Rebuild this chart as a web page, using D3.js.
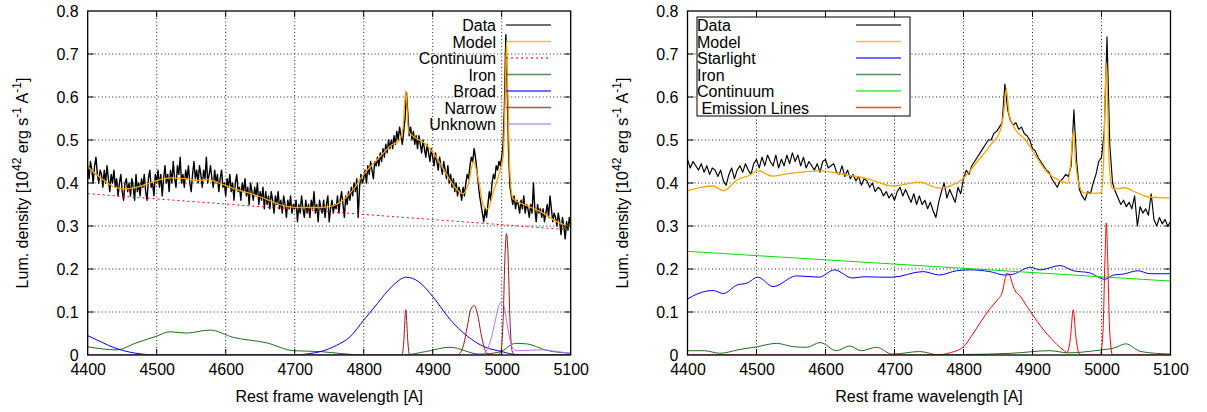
<!DOCTYPE html>
<html>
<head>
<meta charset="utf-8">
<script src="https://cdn.jsdelivr.net/npm/d3@7"></script>
<style>
  body { margin: 0; background: #fff; }
  svg { display: block; font-family: "Liberation Sans", Arial, Helvetica, sans-serif; }
</style>
</head>
<body>
<script>
"use strict";

// tick values and labels shared by both panels
var xTicks = [4400, 4500, 4600, 4700, 4800, 4900, 5000, 5100];
var yTicks = [0, 0.1, 0.2, 0.3, 0.4, 0.5, 0.6, 0.7, 0.8];
var yTickLabels = ["0", "0.1", "0.2", "0.3", "0.4", "0.5", "0.6", "0.7", "0.8"];

// ---- left panel ----
// observed spectrum, one value every 2 A from 4400 A
var leftDataStart = 4400, leftDataStep = 2;
var leftData = [
  0.44,0.41,0.45,0.43,0.40,0.44,0.46,0.42,0.40,0.43,
  0.42,0.39,0.43,0.40,0.44,0.41,0.38,0.42,0.40,0.43,
  0.39,0.41,0.37,0.40,0.42,0.38,0.36,0.40,0.41,0.38,
  0.40,0.37,0.41,0.39,0.36,0.42,0.38,0.40,0.37,0.41,
  0.39,0.42,0.38,0.36,0.41,0.43,0.39,0.40,0.37,0.42,
  0.40,0.43,0.39,0.42,0.37,0.41,0.44,0.40,0.42,0.38,
  0.43,0.40,0.45,0.41,0.39,0.44,0.42,0.46,0.40,0.42,
  0.39,0.43,0.41,0.44,0.40,0.38,0.42,0.45,0.41,0.43,
  0.40,0.44,0.42,0.39,0.43,0.41,0.46,0.40,0.42,0.44,
  0.41,0.39,0.43,0.40,0.42,0.38,0.41,0.43,0.39,0.40,
  0.37,0.41,0.39,0.42,0.38,0.40,0.36,0.40,0.42,0.38,
  0.39,0.36,0.40,0.38,0.41,0.37,0.39,0.35,0.40,0.38,
  0.36,0.39,0.37,0.40,0.35,0.38,0.36,0.39,0.34,0.38,
  0.35,0.37,0.34,0.38,0.36,0.33,0.37,0.35,0.38,0.34,
  0.36,0.33,0.37,0.35,0.32,0.36,0.34,0.37,0.33,0.35,
  0.34,0.36,0.31,0.35,0.33,0.37,0.34,0.32,0.36,0.33,
  0.35,0.32,0.36,0.34,0.38,0.33,0.35,0.31,0.36,0.34,
  0.33,0.36,0.32,0.35,0.37,0.31,0.34,0.36,0.33,0.35,
  0.34,0.37,0.33,0.36,0.38,0.35,0.32,0.37,0.35,0.38,
  0.36,0.39,0.37,0.40,0.38,0.41,0.32,0.39,0.42,0.40,
  0.41,0.43,0.40,0.44,0.42,0.45,0.43,0.41,0.45,0.44,
  0.46,0.44,0.47,0.45,0.48,0.46,0.49,0.47,0.50,0.48,
  0.50,0.48,0.51,0.49,0.52,0.50,0.53,0.51,0.49,0.52,
  0.55,0.61,0.56,0.51,0.53,0.50,0.52,0.49,0.51,0.48,
  0.51,0.49,0.47,0.50,0.48,0.46,0.49,0.47,0.45,0.48,
  0.46,0.44,0.47,0.45,0.43,0.46,0.44,0.42,0.45,0.43,
  0.41,0.44,0.40,0.42,0.39,0.41,0.38,0.40,0.37,0.39,
  0.38,0.36,0.39,0.37,0.40,0.42,0.41,0.44,0.46,0.45,
  0.48,0.46,0.43,0.40,0.37,0.35,0.33,0.31,0.34,0.32,
  0.35,0.38,0.36,0.40,0.42,0.41,0.44,0.43,0.45,0.44,
  0.46,0.49,0.58,0.745,0.62,0.47,0.39,0.37,0.35,0.37,
  0.34,0.36,0.35,0.33,0.36,0.34,0.37,0.33,0.35,0.34,
  0.32,0.35,0.33,0.40,0.34,0.31,0.35,0.33,0.34,0.32,
  0.34,0.31,0.33,0.35,0.32,0.37,0.34,0.31,0.33,0.32,
  0.30,0.33,0.31,0.28,0.32,0.30,0.27,0.31,0.29,0.32,
  0.30
];
var leftModelX = [4400,4420,4440,4455,4470,4490,4505,4520,4540,4560,4575,4590,4610,4630,4650,4670,4690,4710,4730,4750,4770,4785,4800,4820,4840,4852,4857,4861,4865,4875,4890,4905,4920,4935,4944,4952,4959,4966,4974,4980,4988,4996,5002,5005,5007,5009,5012,5016,5025,5040,5060,5080,5100];
var leftModelY = [0.438,0.41,0.39,0.386,0.39,0.40,0.408,0.412,0.41,0.406,0.408,0.40,0.388,0.378,0.368,0.355,0.345,0.343,0.343,0.345,0.36,0.385,0.42,0.455,0.488,0.50,0.53,0.615,0.52,0.505,0.49,0.46,0.42,0.385,0.375,0.40,0.45,0.41,0.345,0.34,0.38,0.42,0.46,0.60,0.73,0.60,0.42,0.365,0.355,0.345,0.33,0.31,0.298];
var leftContX = [4400, 5100];
var leftContY = [0.375, 0.291];
var leftIronX = [4400,4442,4470,4500,4519,4543,4577,4611,4660,4698,4737,4770,4800,4857,4890,4925,4968,4997,5020,5036,5065,5100];
var leftIronY = [0.019,0.012,0.028,0.044,0.054,0.051,0.058,0.041,0.028,0.010,0.008,0.003,0,0,0.008,0.018,0.002,0.007,0.027,0.026,0.011,0.004];
var leftBroadX = [4400,4420,4440,4460,4480,4500,4700,4720,4740,4760,4780,4800,4820,4840,4862,4880,4900,4925,4950,4975,5000,5020,5040,5100];
var leftBroadY = [0.045,0.03,0.016,0.007,0.002,0,0,0.003,0.009,0.022,0.042,0.081,0.12,0.158,0.181,0.17,0.136,0.083,0.044,0.019,0.008,0.001,0,0];
var leftNarrowX = [4400,4852,4856,4858,4861,4864,4866,4870,4935,4940,4945,4950,4955,4960,4965,4970,4975,4980,4985,4995,4999,5002,5005,5007,5009,5012,5015,5019,5100];
var leftNarrowY = [0,0,0.002,0.03,0.105,0.03,0.002,0,0,0.005,0.025,0.065,0.105,0.115,0.095,0.05,0.015,0.002,0,0,0.01,0.08,0.24,0.282,0.24,0.08,0.01,0,0];
var leftUnknownX = [4400,4970,4978,4985,4990,4995,5000,5004,5008,5012,5016,5022,5040,5060,5080,5100];
var leftUnknownY = [0,0,0.01,0.04,0.075,0.11,0.124,0.11,0.07,0.035,0.016,0.01,0.011,0.012,0.008,0.004];

// ---- right panel ----
// observed spectrum, one value every 4 A from 4400 A
var rightDataStart = 4400, rightDataStep = 4;
var rightData = [
  0.455,0.435,0.45,0.44,0.43,
  0.445,0.425,0.44,0.42,0.435,
  0.43,0.415,0.43,0.405,0.395,
  0.42,0.435,0.41,0.43,0.44,
  0.425,0.445,0.43,0.42,0.445,
  0.455,0.435,0.46,0.44,0.465,
  0.45,0.44,0.465,0.435,0.455,
  0.44,0.465,0.445,0.47,0.45,
  0.465,0.44,0.46,0.435,0.45,
  0.44,0.43,0.445,0.425,0.45,
  0.455,0.435,0.44,0.445,0.425,
  0.42,0.44,0.415,0.43,0.41,
  0.42,0.405,0.415,0.395,0.41,
  0.405,0.39,0.40,0.38,0.39,
  0.385,0.37,0.38,0.365,0.375,
  0.36,0.38,0.39,0.37,0.385,
  0.37,0.355,0.375,0.35,0.37,
  0.35,0.36,0.34,0.355,0.335,
  0.32,0.355,0.38,0.40,0.365,
  0.385,0.37,0.355,0.39,0.375,
  0.41,0.43,0.42,0.44,0.45,
  0.46,0.47,0.48,0.49,0.50,
  0.50,0.515,0.52,0.53,0.54,
  0.63,0.57,0.545,0.535,0.54,
  0.525,0.53,0.515,0.51,0.50,
  0.48,0.475,0.46,0.45,0.44,
  0.43,0.425,0.41,0.40,0.39,
  0.405,0.41,0.42,0.415,0.44,
  0.57,0.45,0.385,0.37,0.36,
  0.38,0.375,0.40,0.42,0.45,
  0.46,0.52,0.74,0.49,0.40,
  0.38,0.365,0.35,0.36,0.345,
  0.355,0.34,0.37,0.30,0.345,
  0.33,0.34,0.325,0.375,0.315,
  0.30,0.32,0.305,0.315,0.30,
  0.31
];
var rightModelX = [4400,4420,4437,4452,4472,4490,4501,4524,4540,4558,4591,4630,4663,4697,4736,4765,4784,4799,4820,4840,4853,4858,4862,4866,4875,4890,4902,4922,4940,4951,4955,4959,4963,4970,4975,4990,5000,5003,5007,5011,5015,5018,5033,5050,5067,5085,5100];
var rightModelY = [0.382,0.39,0.393,0.382,0.407,0.418,0.429,0.416,0.42,0.424,0.428,0.419,0.409,0.393,0.402,0.388,0.395,0.41,0.45,0.49,0.52,0.56,0.62,0.56,0.525,0.50,0.47,0.424,0.405,0.40,0.44,0.52,0.44,0.385,0.377,0.376,0.378,0.45,0.68,0.45,0.39,0.386,0.389,0.378,0.368,0.366,0.365];
var rightStarX = [4400,4414,4437,4452,4472,4486,4502,4524,4558,4591,4613,4639,4655,4678,4697,4741,4765,4790,4809,4838,4860,4872,4897,4911,4940,4959,4983,5005,5017,5031,5053,5070,5100];
var rightStarY = [0.13,0.142,0.15,0.143,0.163,0.167,0.181,0.159,0.184,0.181,0.198,0.179,0.182,0.181,0.181,0.194,0.186,0.196,0.198,0.194,0.186,0.188,0.204,0.198,0.208,0.196,0.191,0.176,0.186,0.188,0.196,0.189,0.189];
var rightIronX = [4400,4424,4447,4476,4500,4529,4555,4573,4592,4616,4635,4652,4674,4697,4736,4765,4800,4870,4925,4952,5000,5018,5035,5057,5100];
var rightIronY = [0.01,0.01,0.004,0.013,0.019,0.027,0.019,0.018,0.029,0.01,0.021,0.01,0.018,0.002,0.008,0,0.001,0.004,0.01,0.005,0.012,0.016,0.026,0.008,0.002];
var rightContX = [4400, 5100];
var rightContY = [0.241, 0.172];
var rightLinesX = [4400,4760,4780,4800,4812,4825,4837,4849,4856,4860,4863,4867,4870,4874,4882,4892,4902,4912,4922,4935,4946,4950,4955,4959,4963,4967,4970,4998,5002,5005,5007,5009,5012,5016,5100];
var rightLinesY = [0,0,0.005,0.019,0.045,0.077,0.105,0.128,0.145,0.175,0.19,0.186,0.17,0.152,0.137,0.113,0.089,0.067,0.047,0.025,0.01,0.006,0.04,0.105,0.04,0.005,0,0,0.05,0.22,0.307,0.22,0.05,0,0];

var width = 1207, height = 412;

var svg = d3.select("body").append("svg")
  .attr("width", width)
  .attr("height", height);

function pairs(xs, ys) {
  return xs.map(function (x, i) { return [x, ys[i]]; });
}

function gridded(start, step, ys) {
  return ys.map(function (y, i) { return [start + i * step, y]; });
}

function drawPanel(p) {
  var x = d3.scaleLinear().domain([4400, 5100]).range([p.left, p.right]);
  var y = d3.scaleLinear().domain([0, 0.8]).range([355, 11]);
  var g = svg.append("g");

  // dotted grid
  g.append("g").selectAll("line").data(xTicks.slice(1, -1)).enter().append("line")
    .attr("x1", x).attr("x2", x).attr("y1", y(0)).attr("y2", y(0.8))
    .attr("stroke", "#222").attr("stroke-width", 1).attr("stroke-dasharray", "1,2.5");
  g.append("g").selectAll("line").data(yTicks.slice(1, -1)).enter().append("line")
    .attr("x1", x(4400)).attr("x2", x(5100)).attr("y1", y).attr("y2", y)
    .attr("stroke", "#222").attr("stroke-width", 1).attr("stroke-dasharray", "1,2.5");

  var clip = "clip-" + p.name;
  svg.append("clipPath").attr("id", clip).append("rect")
    .attr("x", x(4400)).attr("y", y(0.8))
    .attr("width", x(5100) - x(4400)).attr("height", y(0) - y(0.8));

  var plot = g.append("g").attr("clip-path", "url(#" + clip + ")");
  p.series.forEach(function (s) {
    var line = d3.line()
      .x(function (d) { return x(d[0]); })
      .y(function (d) { return y(d[1]); })
      .curve(s.smooth ? d3.curveMonotoneX : d3.curveLinear);
    plot.append("path").datum(s.points)
      .attr("fill", "none")
      .attr("stroke", s.color)
      .attr("stroke-width", s.width || 1)
      .attr("stroke-linejoin", "round")
      .attr("stroke-dasharray", s.dash || null)
      .attr("d", line);
  });

  // border with mirrored inward ticks
  g.append("rect")
    .attr("x", x(4400)).attr("y", y(0.8))
    .attr("width", x(5100) - x(4400)).attr("height", y(0) - y(0.8))
    .attr("fill", "none").attr("stroke", "#000").attr("stroke-width", 1.3);
  var axB = d3.axisBottom(x).tickValues(xTicks).tickSize(0).tickPadding(9).tickFormat(d3.format("d"));
  var axL = d3.axisLeft(y).tickValues(yTicks).tickSize(0).tickPadding(9)
    .tickFormat(function (d, i) { return yTickLabels[i]; });
  [axB, axL].forEach(function (ax, k) {
    var a = g.append("g")
      .attr("transform", k === 0 ? "translate(0," + y(0) + ")" : "translate(" + x(4400) + ",0)")
      .call(ax);
    a.select(".domain").remove();
    a.selectAll("text").attr("font-size", 16).attr("fill", "#000")
      .attr("font-family", "Liberation Sans, Arial, sans-serif");
  });
  var ticks = g.append("g").attr("stroke", "#000");
  xTicks.slice(1, -1).forEach(function (t) {
    ticks.append("line").attr("x1", x(t)).attr("x2", x(t)).attr("y1", y(0)).attr("y2", y(0) - 6);
    ticks.append("line").attr("x1", x(t)).attr("x2", x(t)).attr("y1", y(0.8)).attr("y2", y(0.8) + 6);
  });
  yTicks.slice(1, -1).forEach(function (t) {
    ticks.append("line").attr("x1", x(4400)).attr("x2", x(4400) + 6).attr("y1", y(t)).attr("y2", y(t));
    ticks.append("line").attr("x1", x(5100)).attr("x2", x(5100) - 6).attr("y1", y(t)).attr("y2", y(t));
  });

  // axis titles
  g.append("text")
    .attr("x", (x(4400) + x(5100)) / 2).attr("y", 402)
    .attr("text-anchor", "middle").attr("font-size", 16)
    .text("Rest frame wavelength [A]");
  var yl = g.append("text")
    .attr("transform", "translate(" + (p.left - 60) + "," + ((y(0) + y(0.8)) / 2) + ") rotate(-90)")
    .attr("text-anchor", "middle").attr("font-size", 16);
  yl.append("tspan").text("Lum. density [10");
  yl.append("tspan").attr("dy", -7).attr("font-size", 12).text("42");
  yl.append("tspan").attr("dy", 7).text(" erg s");
  yl.append("tspan").attr("dy", -7).attr("font-size", 12).text("-1");
  yl.append("tspan").attr("dy", 7).text(" A");
  yl.append("tspan").attr("dy", -7).attr("font-size", 12).text("-1");
  yl.append("tspan").attr("dy", 7).text("]");

  // legend
  var lg = g.append("g");
  if (p.box) {
    lg.append("rect").attr("x", p.box[0]).attr("y", p.box[1])
      .attr("width", p.box[2] - p.box[0]).attr("height", p.box[3] - p.box[1])
      .attr("fill", "#fff").attr("stroke", "#000").attr("stroke-width", 1);
  }
  p.series.forEach(function (s, i) {
    var cy = 25 + i * 16.5;
    lg.append("text").attr("x", p.textX).attr("y", cy + 6)
      .attr("text-anchor", p.anchor).attr("font-size", 16)
      .style("white-space", "pre")
      .text(s.label);
    lg.append("line").attr("x1", p.sample[0]).attr("x2", p.sample[1])
      .attr("y1", cy).attr("y2", cy)
      .attr("stroke", s.color).attr("stroke-width", 1.6)
      .attr("stroke-opacity", 0.75)
      .attr("stroke-dasharray", s.dash || null);
  });
}

drawPanel({
  name: "left", left: 87.7, right: 570.7,
  textX: 496, anchor: "end", sample: [506, 551],
  series: [
    { label: "Data", color: "#000", width: 1.4, points: gridded(leftDataStart, leftDataStep, leftData) },
    { label: "Model", color: "#ffa500", width: 1.3, smooth: true, points: pairs(leftModelX, leftModelY) },
    { label: "Continuum", color: "#ff0000", dash: "2,3", points: pairs(leftContX, leftContY) },
    { label: "Iron", color: "#1b6f1b", smooth: true, points: pairs(leftIronX, leftIronY) },
    { label: "Broad", color: "#0000ff", smooth: true, points: pairs(leftBroadX, leftBroadY) },
    { label: "Narrow", color: "#9b1515", smooth: true, points: pairs(leftNarrowX, leftNarrowY) },
    { label: "Unknown", color: "#b070ff", smooth: true, points: pairs(leftUnknownX, leftUnknownY) }
  ]
});

drawPanel({
  name: "right", left: 687.5, right: 1170.5,
  textX: 697, anchor: "start", sample: [856, 901], box: [697, 17, 910, 116],
  series: [
    { label: "Data", color: "#000", width: 1.15, points: gridded(rightDataStart, rightDataStep, rightData) },
    { label: "Model", color: "#ffa500", width: 1.3, smooth: true, points: pairs(rightModelX, rightModelY) },
    { label: "Starlight", color: "#0000ff", smooth: true, points: pairs(rightStarX, rightStarY) },
    { label: "Iron", color: "#1b6f1b", smooth: true, points: pairs(rightIronX, rightIronY) },
    { label: "Continuum", color: "#00e000", points: pairs(rightContX, rightContY) },
    { label: "\u00a0Emission Lines", color: "#ff0000", smooth: true, points: pairs(rightLinesX, rightLinesY) }
  ]
});
</script>
</body>
</html>
